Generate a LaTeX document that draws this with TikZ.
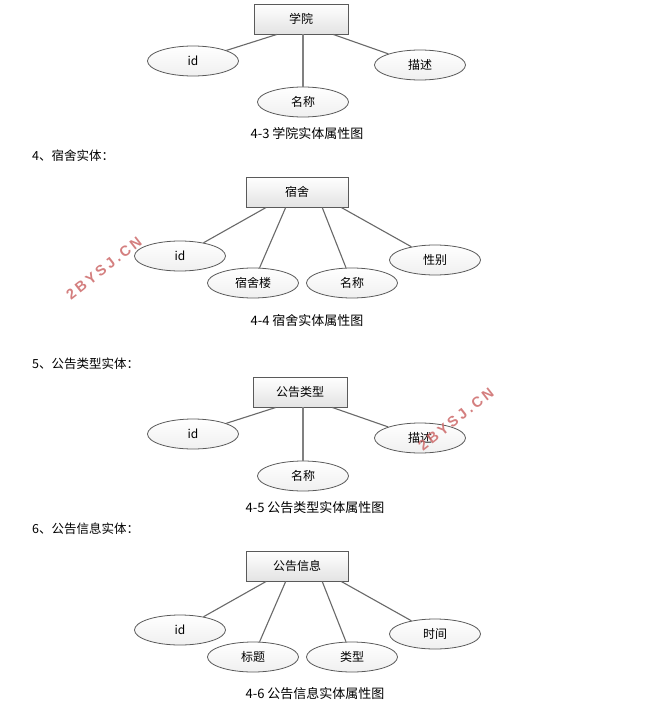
\documentclass[tikz,border=0pt]{standalone}
\usepackage{fontspec}
\setmainfont{Noto Sans CJK SC}
\newfontfamily\wmfont[LetterSpace=20]{Liberation Sans}
\usetikzlibrary{calc,shapes.geometric}
\definecolor{edgegray}{RGB}{90,90,90}
\definecolor{linegray}{RGB}{105,105,105}
\definecolor{wmred}{RGB}{205,105,105}
\tikzset{
  entity/.style={draw=edgegray, line width=0.9pt, top color=white, bottom color=gray!22,
    minimum width=94pt, minimum height=30pt, inner sep=0pt, font=\fontsize{12}{12}\selectfont},
  attr/.style={ellipse, draw=edgegray, line width=0.8pt, top color=white, bottom color=gray!12,
    minimum width=91pt, minimum height=30pt, inner sep=0pt, font=\fontsize{12}{12}\selectfont},
  conn/.style={draw=linegray, line width=1.1pt},
  thick conn/.style={draw=linegray!85, line width=1.8pt},
  caption/.style={font=\fontsize{13}{13}\selectfont, inner sep=0pt},
  heading/.style={font=\fontsize{12.5}{12.5}\selectfont, inner sep=0pt, anchor=west},
  watermark/.style={text=wmred, opacity=0.85, font=\wmfont\bfseries\fontsize{14.5}{14.5}\selectfont, rotate=38, inner sep=0pt}
}
\begin{document}
\begin{tikzpicture}[x=1pt,y=-1pt]
\useasboundingbox (0,0) rectangle (647,704);
\fill[white] (0,0) rectangle (647,704);
% ---------- 4-3 ----------
\node[entity] (e1) at (301,19) {学院};
\node[attr] (e1id) at (193,61) {id};
\node[attr] (e1ms) at (420,65) {描述};
\node[attr] (e1mc) at (303,102) {名称};
\coordinate (e1a) at ($(e1.south west)!0.245!(e1.south east)$);
\coordinate (e1b) at ($(e1.south west)!0.84!(e1.south east)$);
\draw[conn] (e1a) -- (e1id);
\draw[conn] (e1b) -- (e1ms);
\draw[thick conn] (e1mc.north |- e1.south) -- (e1mc.north);
\node[caption] (c1) at (307,134) {4-3 学院实体属性图};
% ---------- 4-4 ----------
\node[heading] (h4) at (32,156) {4、宿舍实体：};
\node[entity, minimum width=102pt] (e2) at (297,192) {宿舍};
\node[attr] (e2id) at (180,256) {id};
\node[attr] (e2ss) at (253,283) {宿舍楼};
\node[attr] (e2mc) at (352,283) {名称};
\node[attr] (e2xb) at (435,260) {性别};
\coordinate (e2a) at ($(e2.south west)!0.2!(e2.south east)$);
\coordinate (e2b) at ($(e2.south west)!0.39!(e2.south east)$);
\coordinate (e2c) at ($(e2.south west)!0.745!(e2.south east)$);
\coordinate (e2d) at ($(e2.south west)!0.93!(e2.south east)$);
\draw[conn] (e2a) -- (e2id);
\draw[conn] (e2b) -- (e2ss);
\draw[conn] (e2c) -- (e2mc);
\draw[conn] (e2d) -- (e2xb);
\node[caption] (c2) at (307,321) {4-4 宿舍实体属性图};
% ---------- 4-5 ----------
\node[heading] (h5) at (32,364) {5、公告类型实体：};
\node[entity] (e3) at (300,392) {公告类型};
\node[attr] (e3id) at (193,434) {id};
\node[attr] (e3ms) at (420,438) {描述};
\node[attr] (e3mc) at (303,476) {名称};
\coordinate (e3a) at ($(e3.south west)!0.245!(e3.south east)$);
\coordinate (e3b) at ($(e3.south west)!0.84!(e3.south east)$);
\draw[conn] (e3a) -- (e3id);
\draw[conn] (e3b) -- (e3ms);
\draw[thick conn] (e3mc.north |- e3.south) -- (e3mc.north);
\node[caption] (c3) at (315,508) {4-5 公告类型实体属性图};
% ---------- 4-6 ----------
\node[heading] (h6) at (32,529) {6、公告信息实体：};
\node[entity, minimum width=102pt] (e4) at (297,566) {公告信息};
\node[attr] (e4id) at (180,630) {id};
\node[attr] (e4bt) at (253,657) {标题};
\node[attr] (e4lx) at (352,657) {类型};
\node[attr] (e4sj) at (435,634) {时间};
\coordinate (e4a) at ($(e4.south west)!0.2!(e4.south east)$);
\coordinate (e4b) at ($(e4.south west)!0.39!(e4.south east)$);
\coordinate (e4c) at ($(e4.south west)!0.745!(e4.south east)$);
\coordinate (e4d) at ($(e4.south west)!0.93!(e4.south east)$);
\draw[conn] (e4a) -- (e4id);
\draw[conn] (e4b) -- (e4bt);
\draw[conn] (e4c) -- (e4lx);
\draw[conn] (e4d) -- (e4sj);
\node[caption] (c4) at (315,694) {4-6 公告信息实体属性图};
% ---------- watermarks ----------
\node[watermark] (w1) at (104,268) {2BYSJ.CN};
\node[watermark] (w2) at (456,419) {2BYSJ.CN};
\end{tikzpicture}
\end{document}
